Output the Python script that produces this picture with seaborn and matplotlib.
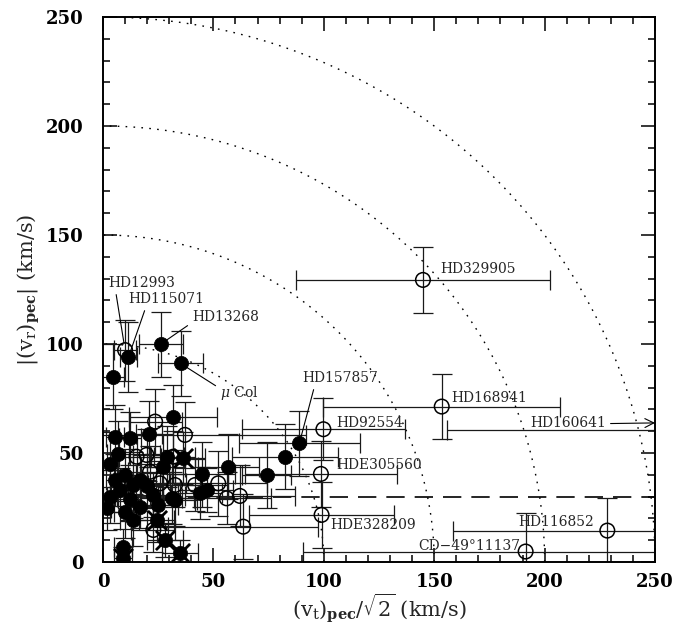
import numpy as np
import pandas as pd
import matplotlib
matplotlib.use("Agg")
import matplotlib.pyplot as plt
import seaborn as sns

# ---------------- data ----------------
# filled circles
filled_x    = [11.5, 26.1, 35.1, 4.7, 31.6, 5.4, 12.2, 20.8, 6.9, 3.2, 28.8, 27.3, 56.8, 82.4, 74.1,
               44.7, 46.9, 43.9, 5.4, 13.7, 3.2, 22.8, 31.1, 1.7, 10.0, 16.8, 13.7, 9.2, 32.6, 88.9,
               10.0, 16.8, 7.5, 20.0, 12.0, 25.0]
filled_y    = [93.9, 99.9, 91.1, 85.0, 66.4, 57.2, 56.7, 58.7, 49.5, 44.8, 48.3, 43.7, 43.7, 48.3, 39.9,
               40.2, 33.0, 31.5, 37.6, 35.3, 30.0, 30.7, 29.2, 24.6, 23.1, 25.4, 19.3, 7.0, 28.4, 54.4,
               39.9, 37.6, 33.0, 35.0, 29.0, 26.0]
filled_xerr = [4, 10, 10, 5, 20, 4, 5, 6, 5, 3, 8, 10, 14, 24, 11,
               15, 12, 10, 4, 6, 3, 8, 10, 2, 5, 6, 6, 4, 10, 27.5,
               5, 7, 4, 7, 5, 9]
filled_yerr = [16, 15, 15, 15, 15, 15, 12, 15, 15, 15, 14, 15, 15, 15, 15,
               15, 10, 12, 12, 15, 12, 10, 12, 10, 12, 10, 12, 8, 12, 15,
               12, 12, 10, 10, 10, 10]

# filled circles drawn with crossed spikes
star_x    = [36.4, 24.3, 28.1, 34.9, 9.2]
star_y    = [47.6, 19.3, 10.1, 4.0, 1.7]
star_xerr = [10, 8, 8, 8, 4]
star_yerr = [12, 10, 8, 6, 5]

# open circles
open_x    = [10.0, 23.6, 37.1, 15.2, 19.7, 31.8, 21.3, 25.8, 32.6, 41.7, 52.2, 56.0, 62.0, 63.5, 22.8,
             144.9, 153.4, 99.8, 98.7, 99.0, 191.4, 228.4]
open_y    = [97.2, 64.4, 58.3, 48.3, 49.1, 48.3, 41.4, 36.1, 35.3, 35.3, 36.1, 29.2, 30.3, 16.2, 14.7,
             129.4, 71.3, 60.9, 40.4, 21.6, 4.8, 14.4]
open_xerr = [5, 12, 55, 8, 6, 10, 10, 12, 12, 15, 22, 20, 25, 34, 10,
             57.7, 53.6, 37, 34.3, 32.8, 100.8, 69.7]
open_yerr = [14, 15, 15, 10, 12, 12, 12, 10, 10, 12, 15, 12, 14, 15, 10,
             15, 15, 14.3, 15, 15, 17.6, 15]

# HD160641 lies beyond the plotted range (only its error bar enters the panel)
far_x, far_y, far_xerr = [280.0], [60.5], [124.0]

circle_radii = [100, 150, 200, 250]
dashed_level = 30

# labels: text, star position it refers to
label_text = ["HD12993", "HD115071", "HD13268", r"$\mu$ Col", "HD157857", "HD329905", "HD168941",
              "HD92554", "HDE305560", "HDE328209", "HD116852", "CD\u221249\u00b011137", "HD160641"]
label_px = [10.0, 11.5, 26.1, 35.1, 88.9, 144.9, 153.4, 99.8, 98.7, 99.0, 228.4, 191.4, 250.0]
label_py = [97.2, 93.9, 99.9, 91.1, 54.4, 129.4, 71.3, 60.9, 40.4, 21.6, 14.4, 4.8, 63.8]

# ---------------- layout (text placement) ----------------
# (text x, text y, leader kind, relpos)
label_layout = [
    (2.3, 128.0, "line", (0.11, 0.0)),
    (11.3, 120.6, "line", (0.24, 0.0)),
    (40.3, 112.4, "line", (0.0, 0.1)),
    (53.0, 77.5, "line", (0.0, 0.75)),
    (90.1, 84.4, "line", (0.17, 0.0)),
    (152.6, 134.4, None, None),
    (157.6, 75.2, None, None),
    (105.5, 63.8, None, None),
    (105.5, 44.5, None, None),
    (102.8, 17.0, None, None),
    (188.0, 18.3, None, None),
    (142.7, 7.3, None, None),
    (193.4, 63.8, "arrow", None),
]

# ---------------- style ----------------
sns.set_style("ticks")
plt.rcParams["font.family"] = ["DejaVu Serif"]
plt.rcParams["mathtext.fontset"] = "dejavuserif"

fig = plt.figure(figsize=(6.75, 6.4), dpi=100)
ax = fig.add_axes([0.1526, 0.1219, 0.8178, 0.8515])

ecol = "#1a1a1a"
eb_kw = dict(fmt="none", ecolor=ecol, elinewidth=0.9, capsize=7, capthick=0.9, zorder=2)

# reference circles and dashed line
theta = np.linspace(0, np.pi / 2, 300)
for r in circle_radii:
    ax.plot(r * np.cos(theta), r * np.sin(theta), color="black", lw=1.0,
            ls=(0, (1.2, 4.5)), zorder=1)
ax.axhline(dashed_level, color="black", lw=1.2, ls=(0, (11, 6)), zorder=1)

# error bars
ax.errorbar(filled_x, filled_y, xerr=filled_xerr, yerr=filled_yerr, **eb_kw)
ax.errorbar(star_x, star_y, xerr=star_xerr, yerr=star_yerr, **eb_kw)
ax.errorbar(open_x, open_y, xerr=open_xerr, yerr=open_yerr, **eb_kw)
ax.errorbar(far_x, far_y, xerr=far_xerr, **eb_kw)

# markers through seaborn
df_f = pd.DataFrame({"x": filled_x + star_x, "y": filled_y + star_y})
sns.scatterplot(data=df_f, x="x", y="y", ax=ax, marker="o", s=105, color="black",
                edgecolor="black", linewidth=0.5, zorder=3, legend=False)
df_s = pd.DataFrame({"x": star_x, "y": star_y})
sns.scatterplot(data=df_s, x="x", y="y", ax=ax, marker="x", s=190, color="black",
                linewidth=2.0, zorder=3, legend=False)
df_o = pd.DataFrame({"x": open_x, "y": open_y})
sns.scatterplot(data=df_o, x="x", y="y", ax=ax, marker="o", s=110, color="black",
                linewidth=1.1, zorder=3, legend=False)
coll = ax.collections[-1]
coll.set_facecolor("none")
coll.set_edgecolor("black")

# labels
for txt, px, py, (tx, ty, kind, rel) in zip(label_text, label_px, label_py, label_layout):
    if kind == "line":
        ax.annotate(txt, xy=(px, py), xytext=(tx, ty), ha="left", va="center", fontsize=10,
                    arrowprops=dict(arrowstyle="-", color="black", lw=0.8, shrinkA=1, shrinkB=5,
                                    relpos=rel), zorder=4)
    elif kind == "arrow":
        ax.annotate(txt, xy=(px, py), xytext=(tx, ty), ha="left", va="center", fontsize=10,
                    arrowprops=dict(arrowstyle="->", color="black", lw=0.8, shrinkA=1, shrinkB=0,
                                    relpos=(1.0, 0.45), mutation_scale=16), zorder=4)
    else:
        ax.text(tx, ty, txt, ha="left", va="center", fontsize=10, zorder=4)

# axes
ax.set_xlim(0, 250)
ax.set_ylim(0, 250)
ax.set_xticks(np.arange(0, 251, 50))
ax.set_yticks(np.arange(0, 251, 50))
ax.set_xticks(np.arange(0, 251, 10), minor=True)
ax.set_yticks(np.arange(0, 251, 10), minor=True)
ax.tick_params(which="both", direction="in", top=True, right=True, width=1.1, colors="black")
ax.tick_params(which="major", length=10, labelsize=13)
ax.tick_params(axis="x", which="major", pad=8)
ax.tick_params(axis="y", which="major", pad=14)
ax.tick_params(which="minor", length=5)
for lab in ax.get_xticklabels() + ax.get_yticklabels():
    lab.set_fontweight("bold")
for sp in ax.spines.values():
    sp.set_linewidth(1.4)
    sp.set_color("black")

ax.set_xlabel(r"$(\mathrm{v}_{\mathrm{t}})_{\mathbf{pec}}/\sqrt{2}\ \mathrm{(km/s)}$", fontsize=15, labelpad=0)
ax.set_ylabel(r"$|(\mathrm{v}_{\mathrm{r}})_{\mathbf{pec}}|\ \mathrm{(km/s)}$", fontsize=15, labelpad=3)

fig.savefig("out.png", dpi=100)
